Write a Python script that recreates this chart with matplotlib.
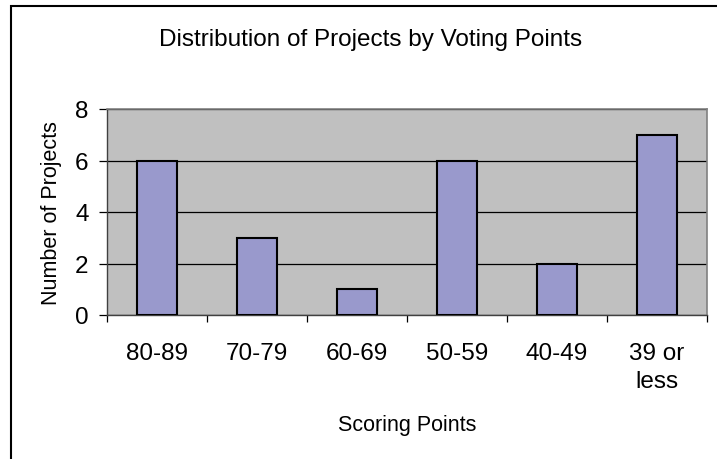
import matplotlib

matplotlib.use("Agg")
import matplotlib.pyplot as plt
import numpy as np
from matplotlib.patches import Rectangle

categories = ["80-89", "70-79", "60-69", "50-59", "40-49", "39 or\nless"]
projects = [6, 3, 1, 6, 2, 7]
y_ticks = [0, 2, 4, 6, 8]

W, H = 717, 460
plt.rcParams["font.family"] = ["Liberation Sans", "DejaVu Sans"]

fig = plt.figure(figsize=(W / 100, H / 100), dpi=100)
ax = fig.add_axes([107 / W, (H - 316) / H, 600 / W, (316 - 110) / H])

x = np.arange(len(categories))
ax.bar(x, projects, width=0.4, color="#9999cc", edgecolor="black", linewidth=1.5, zorder=3)

ax.set_facecolor("#c0c0c0")
ax.set_xlim(-0.5, len(categories) - 0.5)
ax.set_ylim(0, 8)
ax.set_yticks(y_ticks)
ax.yaxis.grid(True, color="black", linewidth=0.9)
ax.set_axisbelow(True)

ax.set_xticks(x)
ax.set_xticklabels(categories, fontsize=17.5, linespacing=1.36)
ax.tick_params(axis="x", which="major", length=0, pad=19.5)
ax.set_xticks(np.arange(len(categories) + 1) - 0.5, minor=True)
ax.tick_params(axis="x", which="minor", length=5, width=0.9, color="black")
ax.tick_params(axis="y", length=5.8, width=0.9, labelsize=17.5, pad=7.5)

for side in ["top", "right"]:
    ax.spines[side].set_color("#808080")
    ax.spines[side].set_linewidth(1.2)
for side in ["left", "bottom"]:
    ax.spines[side].set_color("#404040")
    ax.spines[side].set_linewidth(1.0)

ax.set_xlabel("Scoring Points", fontsize=15.5)
ax.set_ylabel("Number of Projects", fontsize=15.5)
ax.xaxis.set_label_coords(0.5, -(415 - 316) / (316 - 110))
ax.yaxis.set_label_coords(-(107 - 62) / 600, 0.5)

fig.text(371 / W, 1 - 40 / H, "Distribution of Projects by Voting Points",
         fontsize=17.5, ha="center", va="center")

fig.patches.append(Rectangle((11 / W, -0.1), 1.2, 1 - 7 / H + 0.1,
                             transform=fig.transFigure, fill=False,
                             edgecolor="black", linewidth=1.5))

fig.savefig("out.png", dpi=100)
